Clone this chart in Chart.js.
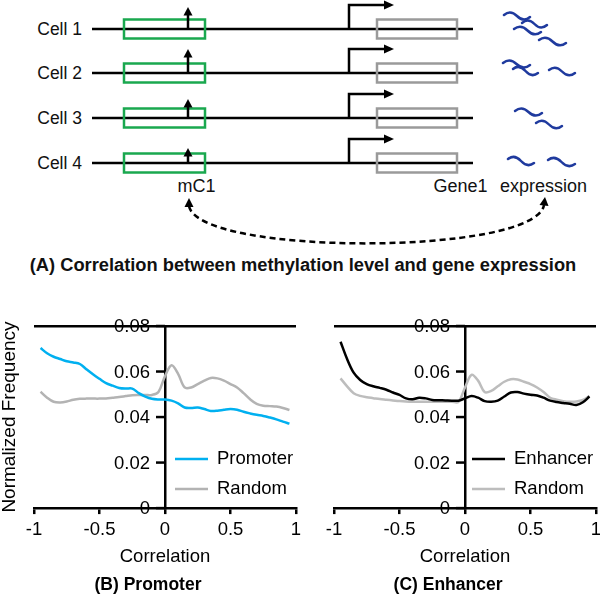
<!DOCTYPE html>
<html>
<head>
<meta charset="utf-8">
<script src="https://cdn.jsdelivr.net/npm/chart.js@4"></script>
<style>
  body { margin: 0; background: #fff; }
  #page { position: relative; width: 600px; height: 597px; font-family: 'Liberation Sans', Arial, sans-serif; }
  #diagram { position: absolute; left: 0; top: 0; }
  #chartB { position: absolute; left: 0; top: 290px; }
  #chartC { position: absolute; left: 300px; top: 290px; }
</style>
</head>
<body>
<div id="page">
  <svg id="diagram" width="600" height="290" xmlns="http://www.w3.org/2000/svg"
       font-family="'Liberation Sans', Arial, sans-serif" fill="#111"></svg>
  <canvas id="chartB" width="310" height="307"></canvas>
  <canvas id="chartC" width="300" height="307"></canvas>
</div>
<script>
// ---- data ----
const corr = [-0.95, -0.9, -0.85, -0.8, -0.75, -0.7, -0.65, -0.6, -0.55, -0.5,
  -0.45, -0.4, -0.35, -0.3, -0.25, -0.2, -0.15, -0.1, -0.05, 0,
  0.05, 0.1, 0.15, 0.2, 0.25, 0.3, 0.35, 0.4, 0.45, 0.5,
  0.55, 0.6, 0.65, 0.7, 0.75, 0.8, 0.85, 0.9, 0.95];

const promoterFreq = [0.0703, 0.068, 0.0665, 0.0655, 0.0645, 0.064, 0.0633, 0.061, 0.0588, 0.0568,
  0.0549, 0.0538, 0.0528, 0.0525, 0.0525, 0.0505, 0.049, 0.048, 0.0477, 0.0477,
  0.0472, 0.046, 0.0442, 0.044, 0.0442, 0.0435, 0.0427, 0.0428, 0.0432, 0.0435,
  0.0432, 0.0423, 0.0416, 0.041, 0.0405, 0.0398, 0.039, 0.038, 0.0371];

const promoterRandom = [0.0511, 0.0485, 0.0467, 0.0464, 0.0468, 0.0476, 0.048, 0.0481, 0.0481, 0.0481,
  0.0482, 0.0485, 0.0488, 0.0492, 0.0496, 0.0497, 0.0497, 0.0497, 0.051, 0.058,
  0.0628, 0.059, 0.053, 0.053, 0.0545, 0.056, 0.0572, 0.057, 0.056, 0.0545,
  0.053, 0.0505, 0.0478, 0.0458, 0.045, 0.0448, 0.0446, 0.044, 0.0431];

const enhancerFreq = [0.0731, 0.0655, 0.0595, 0.0563, 0.0545, 0.0535, 0.0528, 0.052, 0.0508, 0.0497,
  0.0482, 0.0478, 0.0485, 0.0482, 0.0475, 0.0474, 0.0473, 0.0472, 0.0472, 0.0482,
  0.0492, 0.0485, 0.047, 0.0467, 0.0472, 0.049, 0.0508, 0.051, 0.0503, 0.0498,
  0.0495, 0.0485, 0.0472, 0.0466, 0.0462, 0.0458, 0.0453, 0.0465, 0.049];

const enhancerRandom = [0.057, 0.0535, 0.0505, 0.0493, 0.0487, 0.0483, 0.0479, 0.0476, 0.0473, 0.047,
  0.0468, 0.0467, 0.0467, 0.0467, 0.0467, 0.0467, 0.0467, 0.0467, 0.0467, 0.053,
  0.0585, 0.056, 0.051, 0.0515, 0.0535, 0.0555, 0.0566, 0.0565, 0.0555, 0.0545,
  0.053, 0.051, 0.0485, 0.0476, 0.047, 0.0467, 0.0468, 0.0475, 0.0492];

const xTickValues = [-1, -0.5, 0, 0.5, 1];
const xTickLabels = ['-1', '-0.5', '0', '0.5', '1'];
const yTickValues = [0, 0.02, 0.04, 0.06, 0.08];
const yTickLabels = ['0', '0.02', '0.04', '0.06', '0.08'];

const cellNames = ['Cell 1', 'Cell 2', 'Cell 3', 'Cell 4'];
const methylArrowLen = [22, 24, 19, 15];   // height of the mC1 arrow per cell

const FONT = "'Liberation Sans', Arial, sans-serif";
Chart.defaults.font.family = FONT;
Chart.defaults.color = '#000';

// ---- panel A: schematic (SVG) ----
const svg = document.getElementById('diagram');
const NS = 'http://www.w3.org/2000/svg';
function el(tag, attrs, text) {
  const e = document.createElementNS(NS, tag);
  for (const k in attrs) e.setAttribute(k, attrs[k]);
  if (text) e.textContent = text;
  svg.appendChild(e);
  return e;
}
function squiggle(x0, y0, x1, y1) {
  const dx = x1 - x0, dy = y1 - y0;
  el('path', {
    d: `M${x0} ${y0} Q${x0 + dx * 0.25} ${y0 + dy * 0.25 - 6} ${x0 + dx * 0.5} ${y0 + dy * 0.5} T${x1} ${y1}`,
    fill: 'none', stroke: '#1f3a9e', 'stroke-width': 2.5, 'stroke-linecap': 'round'
  });
}

const rowY = [29, 73, 118, 163];
const rnaPerCell = [
  [[504, 15, 530, 17], [522, 23, 547, 25], [514, 29, 541, 32], [539, 40, 566, 43]],
  [[503, 63, 530, 65], [513, 69, 538, 73], [549, 70, 575, 73]],
  [[515, 111, 542, 113], [536, 123, 562, 126]],
  [[508, 159, 534, 163], [548, 160, 575, 164]]
];

rowY.forEach((y, i) => {
  el('text', { x: 82, y: y + 6, 'font-size': 17.5, 'text-anchor': 'end' }, cellNames[i]);
  el('line', { x1: 92, y1: y, x2: 473, y2: y, stroke: '#000', 'stroke-width': 2.5 });
  el('rect', { x: 124, y: y - 9.5, width: 81, height: 19, fill: 'none', stroke: '#1aa84f', 'stroke-width': 2.5 });
  // methylation level arrow
  const top = y - methylArrowLen[i];
  el('line', { x1: 188, y1: y, x2: 188, y2: top + 6, stroke: '#000', 'stroke-width': 2.5 });
  el('polygon', { points: `188,${top} 183.5,${top + 8.5} 192.5,${top + 8.5}`, fill: '#000' });
  // promoter / TSS arrow
  el('polyline', { points: `349,${y} 349,${y - 24} 386,${y - 24}`, fill: 'none', stroke: '#000', 'stroke-width': 2.5 });
  el('polygon', { points: `394,${y - 24} 384,${y - 28.5} 384,${y - 19.5}`, fill: '#000' });
  el('rect', { x: 377, y: y - 9.5, width: 80, height: 19, fill: 'none', stroke: '#9a9a9a', 'stroke-width': 2.5 });
  rnaPerCell[i].forEach(s => squiggle(...s));
});

el('text', { x: 196.5, y: 192, 'font-size': 18, 'text-anchor': 'middle' }, 'mC1');
el('text', { x: 460.5, y: 192, 'font-size': 18, 'text-anchor': 'middle' }, 'Gene1');
el('text', { x: 543.5, y: 192, 'font-size': 18, 'text-anchor': 'middle' }, 'expression');

el('path', { d: 'M189 206 C198 256, 535 256, 544 205', fill: 'none', stroke: '#000',
  'stroke-width': 2.5, 'stroke-dasharray': '6 4' });
el('polygon', { points: '189,198 184.5,207 193.5,207', fill: '#000' });
el('polygon', { points: '545,197 539.5,205 548.5,206', fill: '#000' });

el('text', { x: 303, y: 271, 'font-size': 18.3, 'font-weight': 'bold', 'text-anchor': 'middle' },
  '(A) Correlation between methylation level and gene expression');

// ---- panels B and C: Chart.js ----
// legend drawn inside the plot area, lower right
const insideLegend = {
  id: 'insideLegend',
  afterDraw(chart, args, opts) {
    const { ctx } = chart;
    ctx.save();
    ctx.font = `${opts.fontSize}px ${FONT}`;
    ctx.textBaseline = 'middle';
    ctx.textAlign = 'left';
    chart.data.datasets.forEach((ds, i) => {
      const y = opts.y + i * opts.rowGap;
      ctx.strokeStyle = ds.borderColor;
      ctx.lineWidth = ds.borderWidth;
      ctx.beginPath();
      ctx.moveTo(opts.x, y);
      ctx.lineTo(opts.x + opts.lineLength, y);
      ctx.stroke();
      ctx.fillStyle = '#000';
      ctx.fillText(ds.label, opts.x + opts.lineLength + opts.textGap, y);
    });
    ctx.restore();
  }
};

// y axis sits at x = 0; its ticks and labels go on its left side
const centerAxisTicks = {
  id: 'centerAxisTicks',
  afterDraw(chart, args, opts) {
    const { ctx } = chart;
    const xs = chart.scales.x, ys = chart.scales.y;
    const ax = xs.getPixelForValue(0);
    ctx.save();
    ctx.strokeStyle = '#000';
    ctx.lineWidth = 2.5;
    ctx.fillStyle = '#000';
    ctx.font = `${opts.fontSize}px ${FONT}`;
    ctx.textAlign = 'right';
    ctx.textBaseline = 'middle';
    yTickValues.forEach((v, i) => {
      const py = ys.getPixelForValue(v);
      ctx.beginPath();
      ctx.moveTo(ax - opts.tickLength, py);
      ctx.lineTo(ax, py);
      ctx.stroke();
      ctx.fillText(yTickLabels[i], ax - opts.tickLength - opts.padding, py + 1);
    });
    ctx.restore();
  }
};

function pickLabel(values, labels, v) {
  const i = values.findIndex(t => Math.abs(t - v) < 1e-9);
  return i >= 0 ? labels[i] : '';
}

function makeChart(id, series, caption, legendX, padRight) {
  return new Chart(document.getElementById(id), {
    type: 'line',
    data: {
      datasets: series.map(s => ({
        label: s.label,
        data: corr.map((x, i) => ({ x, y: s.values[i] })),
        borderColor: s.color,
        borderWidth: 2.5,
        pointRadius: 0,
        tension: 0.35,
        fill: false
      }))
    },
    options: {
      responsive: false,
      animation: false,
      devicePixelRatio: 1,
      layout: { padding: { top: 36, left: 0, right: padRight, bottom: 1.5 } },
      scales: {
        x: {
          type: 'linear', min: -1, max: 1,
          ticks: {
            stepSize: 0.5, padding: 5,
            font: { size: 18.5 },
            maxRotation: 0,
            callback: v => pickLabel(xTickValues, xTickLabels, v)
          },
          grid: { drawOnChartArea: false, color: '#000', tickLength: 6, lineWidth: 2.5 },
          border: { color: '#000', width: 2.5 },
          title: { display: true, text: 'Correlation', font: { size: 18.5 }, padding: { top: 0, bottom: 6 } },
          afterFit: s => { s.paddingLeft = 0; s.paddingRight = 0; }
        },
        y: {
          type: 'linear', position: { x: 0 }, min: 0, max: 0.08,
          ticks: { display: false, stepSize: 0.02 },
          grid: {
            color: c => (c.tick && Math.abs(c.tick.value - 0.08) < 1e-9) ? '#000' : 'rgba(0,0,0,0)',
            drawTicks: false, lineWidth: 2.5
          },
          border: { color: '#000', width: 2.5 }
        },
        yTitle: {
          type: 'linear', position: 'left', axis: 'y',
          ticks: { display: false },
          grid: { display: false },
          border: { display: false },
          title: {
            display: id === 'chartB', text: 'Normalized Frequency',
            font: { size: 19, lineHeight: 1 }, padding: { top: 0, bottom: 15 }
          },
          afterFit: s => { s.width = 34; }
        }
      },
      plugins: {
        legend: { display: false },
        tooltip: { enabled: false },
        title: {
          display: true, position: 'bottom', text: caption,
          font: { size: 17.5, weight: 'bold', lineHeight: 1.2 }, padding: 0, color: '#000'
        },
        insideLegend: { x: legendX, y: 169, rowGap: 30, lineLength: 33, textGap: 9, fontSize: 18.5 },
        centerAxisTicks: { tickLength: 9, padding: 6, fontSize: 18.5 }
      }
    },
    plugins: [insideLegend, centerAxisTicks]
  });
}

makeChart('chartB', [
  { label: 'Promoter', values: promoterFreq, color: '#00b0f0' },
  { label: 'Random', values: promoterRandom, color: '#b3b3b3' }
], '(B) Promoter', 175, 14);

makeChart('chartC', [
  { label: 'Enhancer', values: enhancerFreq, color: '#000000' },
  { label: 'Random', values: enhancerRandom, color: '#bdbdbd' }
], '(C) Enhancer', 172, 4);
</script>
</body>
</html>
